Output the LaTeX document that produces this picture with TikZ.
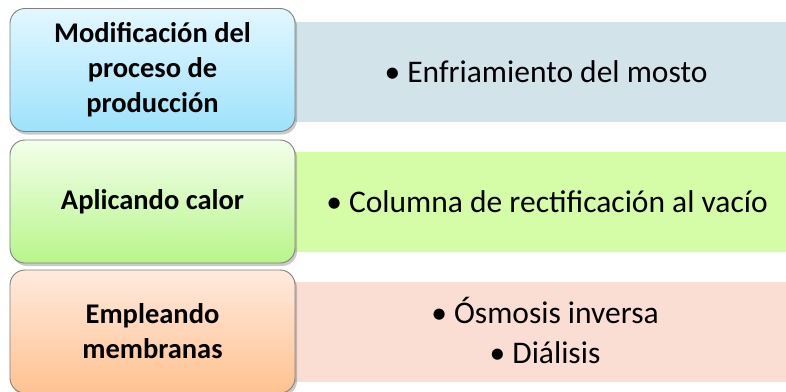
\documentclass[tikz,border=0pt]{standalone}
\usepackage{fontspec}
\setmainfont{Carlito}
\usetikzlibrary{shadows}
\definecolor{rblue}{RGB}{210,227,234}
\definecolor{rgreen}{RGB}{213,252,167}
\definecolor{rorange}{RGB}{251,222,211}
\definecolor{bluetop}{RGB}{226,247,255}
\definecolor{bluebot}{RGB}{158,226,251}
\definecolor{greentop}{RGB}{242,255,235}
\definecolor{greenbot}{RGB}{184,245,138}
\definecolor{orangetop}{RGB}{255,234,222}
\definecolor{orangebot}{RGB}{255,194,144}
\definecolor{bordergray}{RGB}{128,128,128}
\tikzset{
  band/.style={draw=none, minimum width=491pt, minimum height=100pt, anchor=west, inner sep=0pt},
  catbox/.style={draw=bordergray, line width=0.9pt, rounded corners=15pt, minimum width=285pt, minimum height=123pt, inner sep=0pt, align=center,
    font=\fontsize{28.5}{35}\selectfont\bfseries,
    drop shadow={shadow xshift=2pt, shadow yshift=-3pt, opacity=0.35, fill=black!60}},
  itemtext/.style={font=\fontsize{31.5}{40}\selectfont, align=center, inner sep=0pt}
}
\begin{document}
\begin{tikzpicture}[x=1pt,y=-1pt]
\useasboundingbox (0,0) rectangle (786,391);
\clip (0,0) rectangle (786,391);
% right bands
\node[band, fill=rblue] (b1) at (295,72) {};
\node[band, fill=rgreen] (b2) at (295,202) {};
\node[band, fill=rorange] (b3) at (295,332) {};
% left boxes
\node[catbox, top color=bluetop, bottom color=bluebot] (c1) at (152.5,70) {Modificación del\\proceso de\\producción};
\node[catbox, top color=greentop, bottom color=greenbot] (c2) at (152.5,201.5) {Aplicando calor};
\node[catbox, top color=orangetop, bottom color=orangebot] (c3) at (152.5,331.5) {Empleando\\membranas};
% texts
\node[itemtext] (t1) at (546,72) {• Enfriamiento del mosto};
\node[itemtext] (t2) at (547,202) {• Columna de rectificación al vacío};
\node[itemtext] (t3) at (545,330) {• Ósmosis inversa\\• Diálisis};
\end{tikzpicture}
\end{document}
